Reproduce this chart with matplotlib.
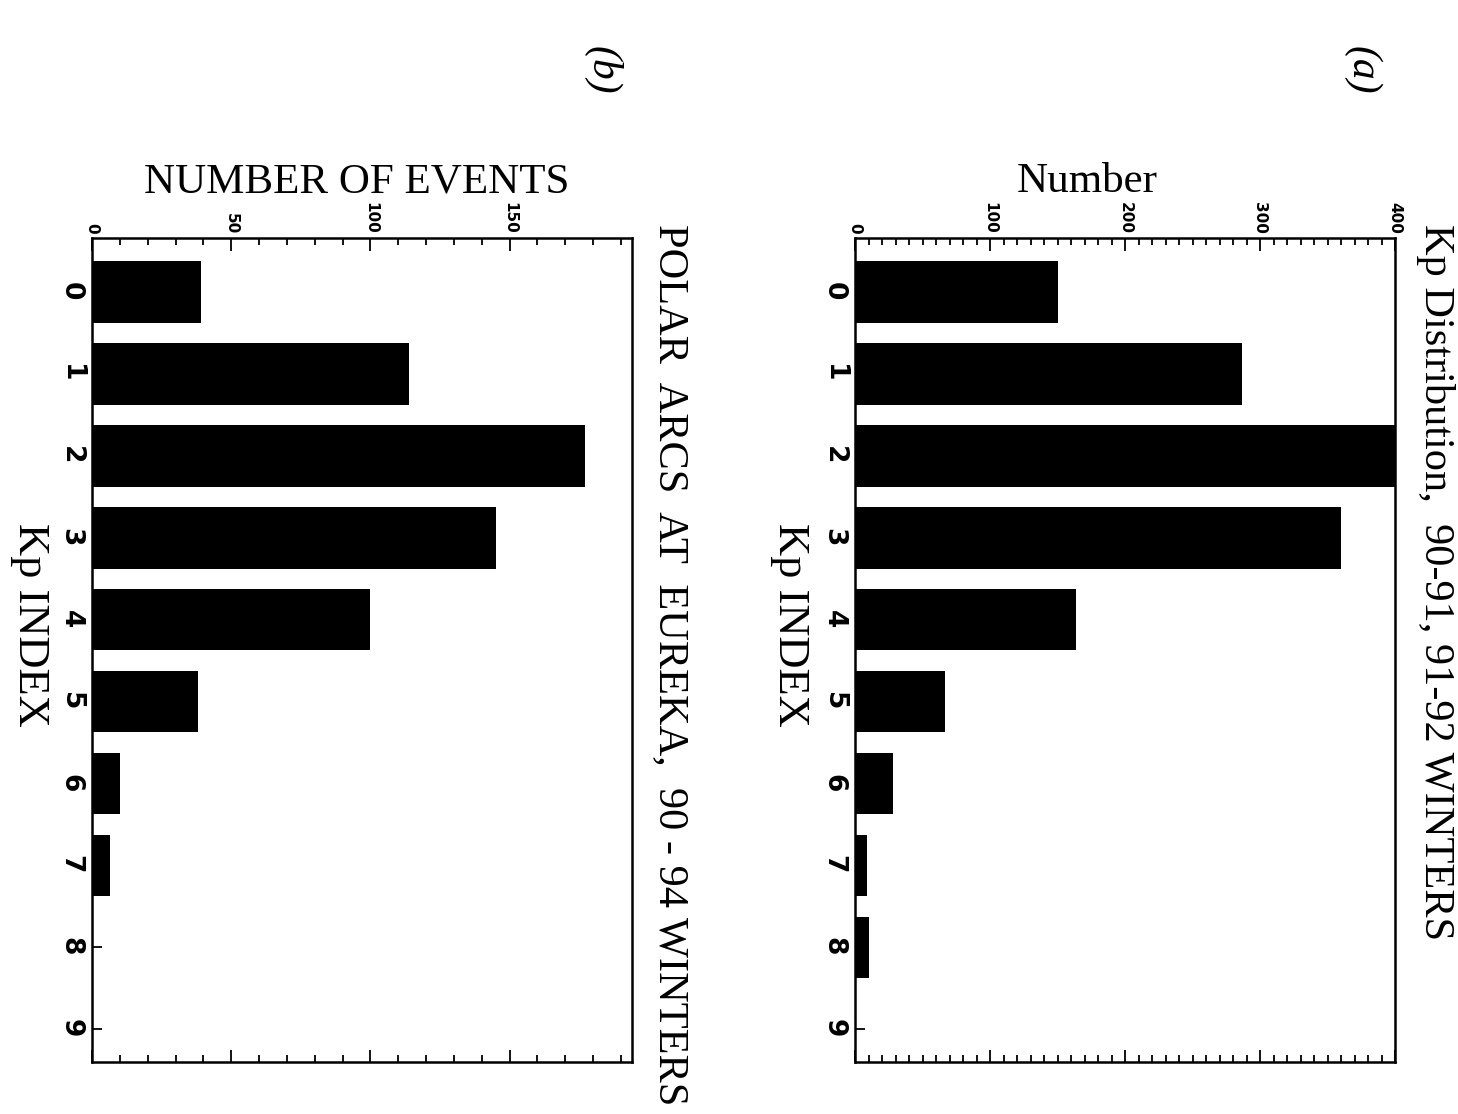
import numpy as np
import matplotlib
matplotlib.use("Agg")
import matplotlib.pyplot as plt
from matplotlib.ticker import MultipleLocator

# Kp index histograms, laid out sideways (page turned a quarter clockwise)
kp = np.arange(10)
kp_counts = [150, 287, 400, 360, 164, 67, 28, 9, 10, 0]        # all hours, 90-91 & 91-92 winters
arc_counts = [39, 114, 177, 145, 100, 38, 10, 6.5, 0, 0]       # polar arcs at Eureka, 90-94 winters

W, H = 1458, 1114
fig = plt.figure(figsize=(W / 100, H / 100), dpi=100)
serif = "Liberation Serif"


def fx(px):
    return px / W


def fy(py):
    return 1 - py / H


def panel(left_px, counts, xmax, major, num_label, num_x, title, title_x, idx_x):
    ax = fig.add_axes([fx(left_px), fy(1062), fx(540), (1062 - 238) / H])
    ax.barh(kp, counts, height=0.75, color="black", edgecolor="none")
    ax.set_xlim(0, xmax)
    ax.set_ylim(9.4, -0.66)
    ax.xaxis.set_major_locator(MultipleLocator(major))
    ax.xaxis.set_minor_locator(MultipleLocator(10))
    ax.set_yticks(kp)
    ax.tick_params(axis="x", which="both", direction="in", top=True, bottom=True,
                   labeltop=True, labelbottom=False, width=1.3, pad=3)
    ax.tick_params(axis="x", which="major", length=9, labelsize=11, labelrotation=-90)
    ax.tick_params(axis="x", which="minor", length=5)
    ax.tick_params(axis="y", direction="in", left=True, right=False, length=7, width=1.3,
                   labelsize=19, labelrotation=-90, pad=6)
    for lab in ax.get_xticklabels():
        lab.set_verticalalignment("bottom")
        lab.set_fontweight("bold")
    for lab in ax.get_yticklabels():
        lab.set_fontweight("bold")
    for s in ax.spines.values():
        s.set_linewidth(1.8)
    fig.text(fx(num_x), fy(182), num_label, family=serif, fontsize=31,
             ha="center", va="center")
    fig.text(fx(title_x), fy(224), title, family=serif, fontsize=30.5,
             rotation=-90, ha="center", va="top")
    fig.text(fx(idx_x), fy(625), "Kp INDEX", family=serif, fontsize=32,
             rotation=-90, ha="center", va="center")
    return ax


panel(855, kp_counts, 400, 100, "Number", 1087,
      "Kp Distribution,  90-91, 91-92 WINTERS", 1435, 790)
panel(92, arc_counts, 194, 50, "NUMBER OF EVENTS", 357,
      "POLAR  ARCS  AT  EUREKA,  90 - 94 WINTERS", 670, 30)

# hand-marked panel letters
fig.text(fx(1362), fy(70), "(a)", family=serif, style="italic", fontsize=30,
         rotation=-90, ha="center", va="center")
fig.text(fx(602), fy(70), "(b)", family=serif, style="italic", fontsize=30,
         rotation=-90, ha="center", va="center")

fig.savefig("out.png", dpi=100)
